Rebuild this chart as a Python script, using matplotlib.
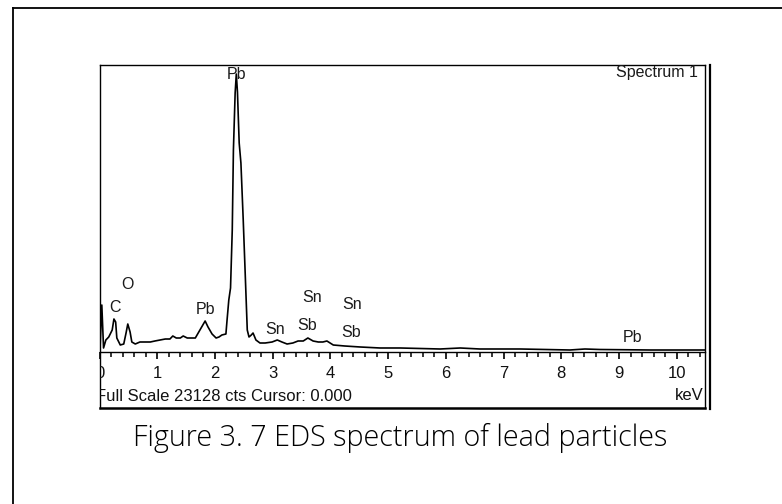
import matplotlib.pyplot as plt
from matplotlib.lines import Line2D
from matplotlib.ticker import MultipleLocator, FixedLocator, FixedFormatter

# EDS spectrum, energy in keV and counts (full scale 23128 cts)
energy = [0.01, 0.04, 0.07, 0.11, 0.16, 0.22, 0.25, 0.28, 0.30, 0.36,
          0.42, 0.46, 0.49, 0.53, 0.56, 0.62, 0.70, 0.88, 0.96, 1.05,
          1.14, 1.22, 1.27, 1.33, 1.40, 1.45, 1.52, 1.66, 1.72, 1.78,
          1.83, 1.88, 1.95, 2.02, 2.07, 2.12, 2.19, 2.21, 2.24, 2.27,
          2.30, 2.32, 2.35, 2.37, 2.39, 2.42, 2.45, 2.49, 2.52, 2.56,
          2.59, 2.63, 2.66, 2.71, 2.78, 2.87, 2.99, 3.08, 3.16, 3.25,
          3.35, 3.44, 3.53, 3.61, 3.70, 3.79, 3.87, 3.94, 4.05, 4.25,
          4.52, 4.86, 5.21, 5.90, 6.25, 6.59, 7.29, 8.15, 8.41, 8.67,
          9.54, 10.49]
counts = [323, 3720, 243, 890, 1132, 1698, 2588, 2345, 1051, 485,
          566, 1456, 2183, 1537, 728, 566, 728, 728, 809, 890,
          970, 970, 1213, 1051, 1051, 1213, 1051, 1051, 1537, 2022,
          2426, 1941, 1375, 1051, 1132, 1294, 1375, 2507, 4124, 5095,
          9785, 16255, 20864, 22400, 20945, 16821, 15203, 10594, 6793, 1698,
          1132, 1294, 1456, 890, 647, 647, 728, 890, 728, 566,
          647, 809, 809, 1051, 809, 728, 728, 809, 485, 404,
          323, 243, 243, 162, 243, 162, 162, 81, 162, 121,
          81, 81]

full_scale = 23128

# element markers
label_names = ["Pb", "C", "O", "Pb", "Sn", "Sb", "Sn", "Sn", "Sb", "Pb"]
label_energy = [2.37, 0.27, 0.49, 1.83, 3.04, 3.60, 3.68, 4.38, 4.36, 9.23]
label_counts = [22320, 3558, 5418, 3316, 1779, 2022, 4286, 3720, 1456, 1132]

tick_values = list(range(0, 11))

W, H = 782, 504
fig = plt.figure(figsize=(W / 100, H / 100), dpi=100)
plt.rcParams['font.family'] = ['Liberation Sans', 'DejaVu Sans']

# outer page border (runs off the right and bottom edges)
fig.add_artist(Line2D([12.5 / W, 1.01], [1 - 7.5 / H, 1 - 7.5 / H],
                      transform=fig.transFigure, color='black', lw=1.3))
fig.add_artist(Line2D([12.5 / W, 12.5 / W], [1 - 7.5 / H, -0.01],
                      transform=fig.transFigure, color='black', lw=1.3))

left, right, top, bottom = 99.5, 705, 65, 407.5
ax = fig.add_axes([left / W, 1 - bottom / H, (right - left) / W, (bottom - top) / H])
ax.plot(energy, counts, color='black', lw=1.2)
ax.set_xlim(0, 10.49)
ax.set_ylim(-4569, full_scale)
ax.set_xticks([])
ax.set_yticks([])
for s in ax.spines.values():
    s.set_linewidth(1.0)
ax.spines['bottom'].set_linewidth(1.8)

# shadow line on the right of the box
fig.add_artist(Line2D([710 / W, 710 / W], [1 - 65 / H, 1 - 408.5 / H],
                      transform=fig.transFigure, color='black', lw=1.6))

# energy axis sitting at zero counts
sec = ax.secondary_xaxis((bottom - 352) / (bottom - top))
sec.spines['bottom'].set_linewidth(1.0)
sec.xaxis.set_major_locator(FixedLocator(tick_values))
sec.xaxis.set_major_formatter(FixedFormatter([''] + [str(v) for v in tick_values[1:]]))
sec.xaxis.set_minor_locator(MultipleLocator(0.2))
sec.tick_params(axis='x', which='major', direction='out', length=5, width=1.2,
                labelsize=12, pad=5, labelcolor='#111111')
sec.tick_params(axis='x', which='minor', direction='out', length=3.5, width=1.1)

# the "0" label is half hidden behind the left edge
ax.text(0.0, -1800, '0', ha='center', va='center', fontsize=12,
        color='#111111', clip_on=True)

for name, e, c in zip(label_names, label_energy, label_counts):
    ax.text(e, c, name, ha='center', va='center', fontsize=11.5,
            color='#1a1a1a', clip_on=True)

ax.text(0.988, 0.978, 'Spectrum 1', transform=ax.transAxes, ha='right',
        va='center', fontsize=11.5, color='#1a1a1a', clip_on=True)
ax.text(-0.006, 0.031, 'Full Scale 23128 cts Cursor: 0.000', transform=ax.transAxes,
        ha='left', va='center', fontsize=12, color='#111111', clip_on=True)
ax.text(0.998, 0.034, 'keV', transform=ax.transAxes, ha='right', va='center',
        fontsize=12, color='#111111', clip_on=True)

# caption
fig.text(400 / W, 1 - 438 / H, 'Figure 3. 7 EDS spectrum of lead particles',
         ha='center', va='center', fontsize=20.7, color='black',
         family=['Open Sans', 'DejaVu Sans'], fontweight='light')

fig.savefig('out.png', dpi=100)
